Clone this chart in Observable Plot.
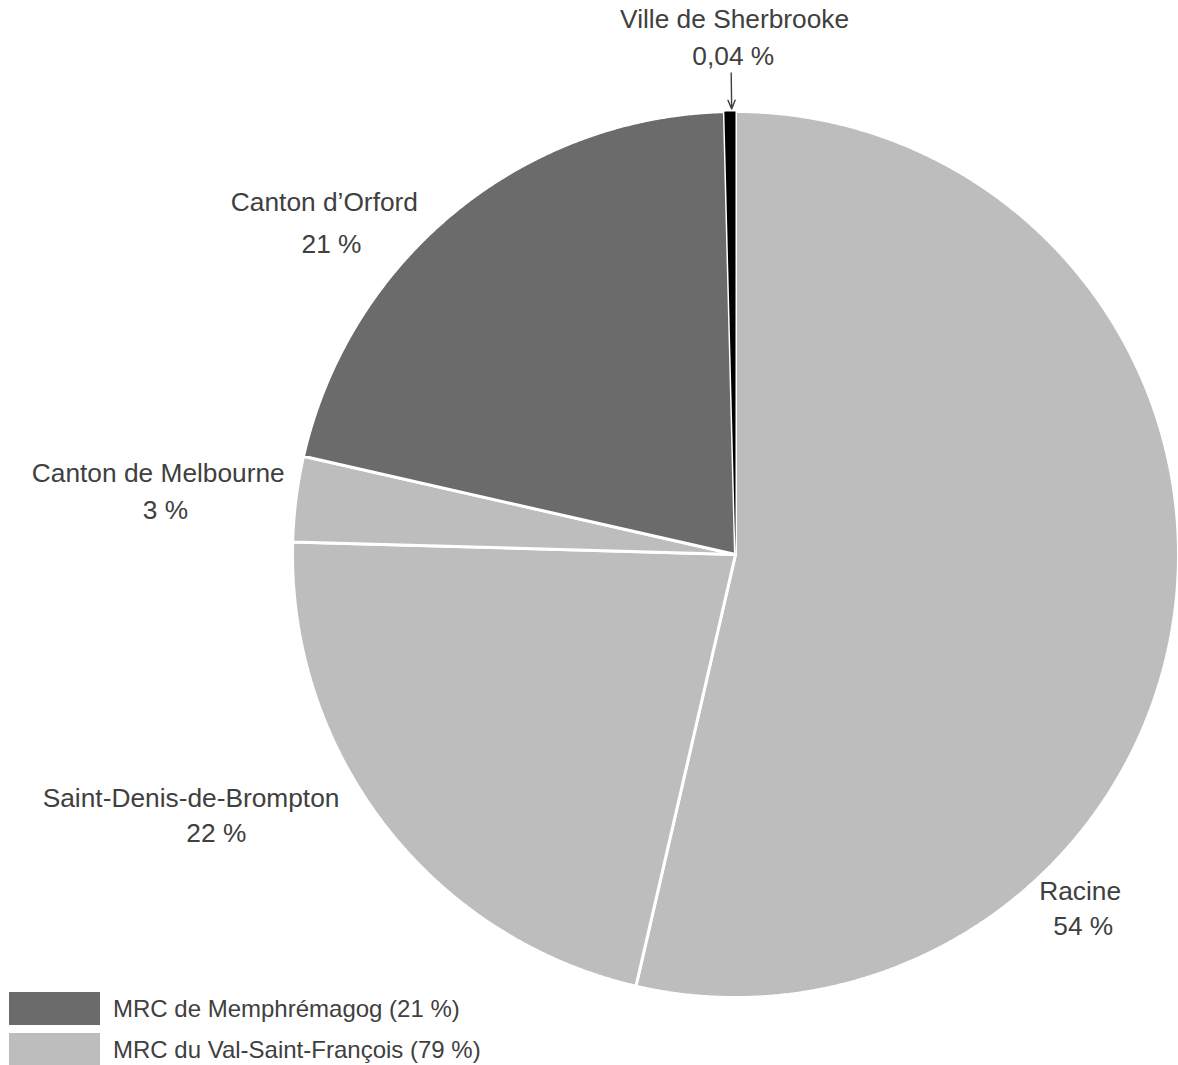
<!DOCTYPE html>
<html><head><meta charset="utf-8">
<script src="https://cdn.jsdelivr.net/npm/d3@7"></script>
<script src="https://cdn.jsdelivr.net/npm/@observablehq/plot@0.6"></script>
<style>
body{margin:0;background:#fff;}
#wrap{position:relative;width:1178px;height:1065px;font-family:"Liberation Sans",Arial,sans-serif;color:#404040;overflow:hidden;}
#wrap svg{position:absolute;left:0;top:0;}
.legend{position:absolute;left:9px;top:992px;}
.item{display:flex;align-items:center;height:33px;margin-bottom:8px;font-size:24px;white-space:nowrap;}
.sw{width:91px;height:33px;margin-right:13px;flex:none;}
</style></head><body><div id="wrap"></div>
<script>
// ---- data ----
const municipalities = ["Racine", "Saint-Denis-de-Brompton", "Canton de Melbourne", "Canton d’Orford", "Ville de Sherbrooke"];
const shares = [53.5, 21.8, 3.1, 21.0, 0.4];
const shareLabels = ["54 %", "22 %", "3 %", "21 %", "0,04 %"];
const mrcOf = ["MRC du Val-Saint-François", "MRC du Val-Saint-François", "MRC du Val-Saint-François", "MRC de Memphrémagog", "Ville de Sherbrooke"];
const legendKeys = ["MRC de Memphrémagog", "MRC du Val-Saint-François"];
const legendLabels = ["MRC de Memphrémagog (21 %)", "MRC du Val-Saint-François (79 %)"];

// ---- styling / layout ----
const colorDomain = ["MRC de Memphrémagog", "MRC du Val-Saint-François", "Ville de Sherbrooke"];
const colorRange = ["#6b6b6b", "#bdbdbd", "#000000"];
const colorOf = k => colorRange[colorDomain.indexOf(k)];
const textColor = "#404040";
// label anchors in radius units (x right, y up) relative to pie centre
const nameAnchor = [[0.778, -0.760], [-1.229, -0.552], [-1.303, 0.183], [-0.928, 0.794], [-0.002, 1.208]];
const pctAnchor  = [[0.785, -0.839], [-1.172, -0.631], [-1.287, 0.100], [-0.912, 0.699], [-0.005, 1.124]];

const CX = 735, CY = 554, R = 443;
const total = d3.sum(shares);
let acc = 0;
const slices = shares.map((v, i) => {
  const a0 = acc / total * 2 * Math.PI;
  acc += v;
  const a1 = acc / total * 2 * Math.PI;
  const n = Math.max(2, Math.ceil((a1 - a0) / (Math.PI / 720)));
  const pts = [{x: 0, y: 0}];
  for (let k = 0; k <= n; k++) {
    const a = a0 + (a1 - a0) * k / n;
    pts.push({x: Math.sin(a), y: Math.cos(a)});
  }
  pts.push({x: 0, y: 0});
  return {name: municipalities[i], group: mrcOf[i], a0, a1, pts};
});

const marks = [];
slices.forEach((s, i) => {
  if (s.group === "Ville de Sherbrooke") return;
  marks.push(Plot.line(s.pts, {x: "x", y: "y", fill: colorOf(s.group), stroke: "white", strokeWidth: 3, strokeLinejoin: "miter"}));
});
slices.forEach((s, i) => {
  if (s.group !== "Ville de Sherbrooke") return;
  marks.push(Plot.line(s.pts, {x: "x", y: "y", fill: colorOf(s.group), stroke: "none"}));
});

const sher = slices[slices.length - 1];
const mid = (sher.a0 + sher.a1) / 2;
marks.push(Plot.arrow([{a: mid}], {
  x1: d => Math.sin(d.a) * 1.087 + 0.004, y1: d => Math.cos(d.a) * 1.087,
  x2: d => Math.sin(d.a) * 1.006 + 0.004, y2: d => Math.cos(d.a) * 1.006,
  stroke: textColor, strokeWidth: 1.4, headLength: 10, headAngle: 45
}));

const labelData = municipalities.map((m, i) => ({m, p: shareLabels[i], n: nameAnchor[i], q: pctAnchor[i]}));
marks.push(Plot.text(labelData, {x: d => d.n[0], y: d => d.n[1], text: "m", fill: textColor, fontSize: 26.3, textAnchor: "middle"}));
marks.push(Plot.text(labelData, {x: d => d.q[0], y: d => d.q[1], text: "p", fill: textColor, fontSize: 26.3, textAnchor: "middle"}));

const chart = Plot.plot({
  width: 1178, height: 1065,
  margin: 0,
  style: {fontFamily: '"Liberation Sans", Arial, sans-serif', background: "transparent", overflow: "visible"},
  x: {domain: [-1, 1], range: [CX - R, CX + R], axis: null},
  y: {domain: [-1, 1], range: [CY + R, CY - R], axis: null},
  marks
});
const wrap = document.getElementById("wrap");
wrap.appendChild(chart);

const legend = document.createElement("div");
legend.className = "legend";
legendKeys.forEach((k, i) => {
  const item = document.createElement("div");
  item.className = "item";
  const sw = document.createElement("div");
  sw.className = "sw";
  sw.style.background = colorOf(k);
  const t = document.createElement("span");
  t.textContent = legendLabels[i];
  item.appendChild(sw); item.appendChild(t);
  legend.appendChild(item);
});
wrap.appendChild(legend);
</script>
</body></html>
